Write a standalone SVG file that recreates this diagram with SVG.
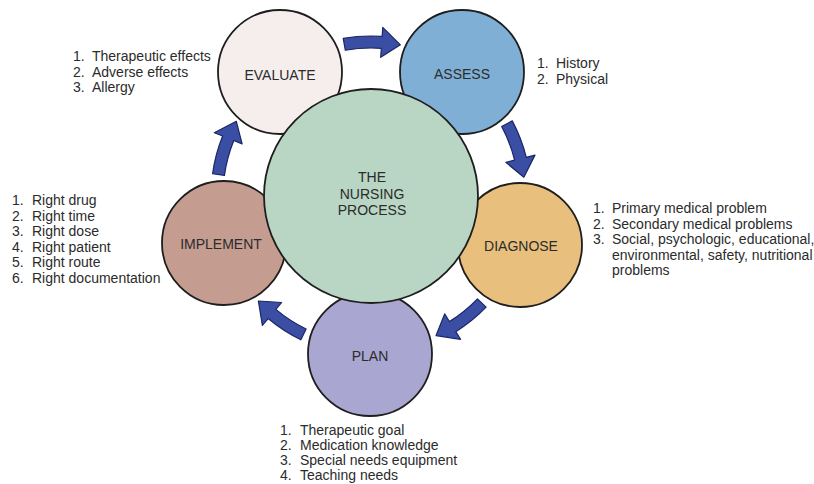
<svg xmlns="http://www.w3.org/2000/svg" width="814" height="484" viewBox="0 0 814 484">
<defs>
<style>
.c{stroke:#1e1e1e;stroke-width:1.8}
.lbl{font-family:"Liberation Sans",Arial,sans-serif;font-size:14px;fill:#2b2b2b;text-anchor:middle}
.lst{font-family:"Liberation Sans",Arial,sans-serif;font-size:14px;fill:#2b2b2b}
.arr{fill:#3a4fa3;stroke:#1c2566;stroke-width:1.2;stroke-linejoin:round}
</style>
<path id="arrow" class="arr" d="M160,0 A160,160 0 0,1 155.25,38.71 L163.98,40.88 L143.77,55.19 L134.87,33.63 L143.6,35.8 A148,148 0 0,0 148,0 Z"/>
</defs>
<rect width="814" height="484" fill="#ffffff"/>
<g id="connectors">
<use href="#arrow" transform="translate(371,196) rotate(260)"/>
<use href="#arrow" transform="translate(371,196) rotate(332)"/>
<use href="#arrow" transform="translate(371,196) rotate(44)"/>
<use href="#arrow" transform="translate(371,196) rotate(116)"/>
<use href="#arrow" transform="translate(371,196) rotate(188)"/>
</g>
<g id="evaluate">
<circle class="c" cx="280" cy="72" r="62" fill="#f5eeec"/>
<text class="lbl" x="280" y="80">EVALUATE</text>
</g>
<g id="assess">
<circle class="c" cx="462" cy="72" r="62" fill="#80afd6"/>
<text class="lbl" x="462" y="79">ASSESS</text>
</g>
<g id="diagnose">
<circle class="c" cx="520" cy="245" r="62" fill="#e8bf7c"/>
<text class="lbl" x="521" y="251">DIAGNOSE</text>
</g>
<g id="plan">
<circle class="c" cx="370" cy="354" r="62" fill="#aaa6d2"/>
<text class="lbl" x="370" y="361">PLAN</text>
</g>
<g id="implement">
<circle class="c" cx="224" cy="243" r="62" fill="#c59d90"/>
<text class="lbl" x="221" y="249">IMPLEMENT</text>
</g>
<g id="center">
<circle class="c" cx="371" cy="196" r="107" fill="#b8d6c3"/>
<text class="lbl" x="372" y="182">THE</text>
<text class="lbl" x="372" y="198.5">NURSING</text>
<text class="lbl" x="372" y="215">PROCESS</text>
</g>
<g id="evaluate-list" class="lst">
<text x="73" y="61">1.</text><text x="92" y="61">Therapeutic effects</text>
<text x="73" y="76.5">2.</text><text x="92" y="76.5">Adverse effects</text>
<text x="73" y="92">3.</text><text x="92" y="92">Allergy</text>
</g>
<g id="assess-list" class="lst">
<text x="537" y="68">1.</text><text x="556" y="68">History</text>
<text x="537" y="83.5">2.</text><text x="556" y="83.5">Physical</text>
</g>
<g id="diagnose-list" class="lst">
<text x="593" y="213">1.</text><text x="612" y="213">Primary medical problem</text>
<text x="593" y="228.5">2.</text><text x="612" y="228.5">Secondary medical problems</text>
<text x="593" y="244">3.</text><text x="612" y="244">Social, psychologic, educational,</text>
<text x="612" y="259.5">environmental, safety, nutritional</text>
<text x="612" y="275">problems</text>
</g>
<g id="plan-list" class="lst">
<text x="280" y="435">1.</text><text x="300" y="435">Therapeutic goal</text>
<text x="280" y="450">2.</text><text x="300" y="450">Medication knowledge</text>
<text x="280" y="465">3.</text><text x="300" y="465">Special needs equipment</text>
<text x="280" y="480">4.</text><text x="300" y="480">Teaching needs</text>
</g>
<g id="implement-list" class="lst">
<text x="12" y="205">1.</text><text x="32" y="205">Right drug</text>
<text x="12" y="220.5">2.</text><text x="32" y="220.5">Right time</text>
<text x="12" y="236">3.</text><text x="32" y="236">Right dose</text>
<text x="12" y="251.5">4.</text><text x="32" y="251.5">Right patient</text>
<text x="12" y="267">5.</text><text x="32" y="267">Right route</text>
<text x="12" y="282.5">6.</text><text x="32" y="282.5">Right documentation</text>
</g>
</svg>
